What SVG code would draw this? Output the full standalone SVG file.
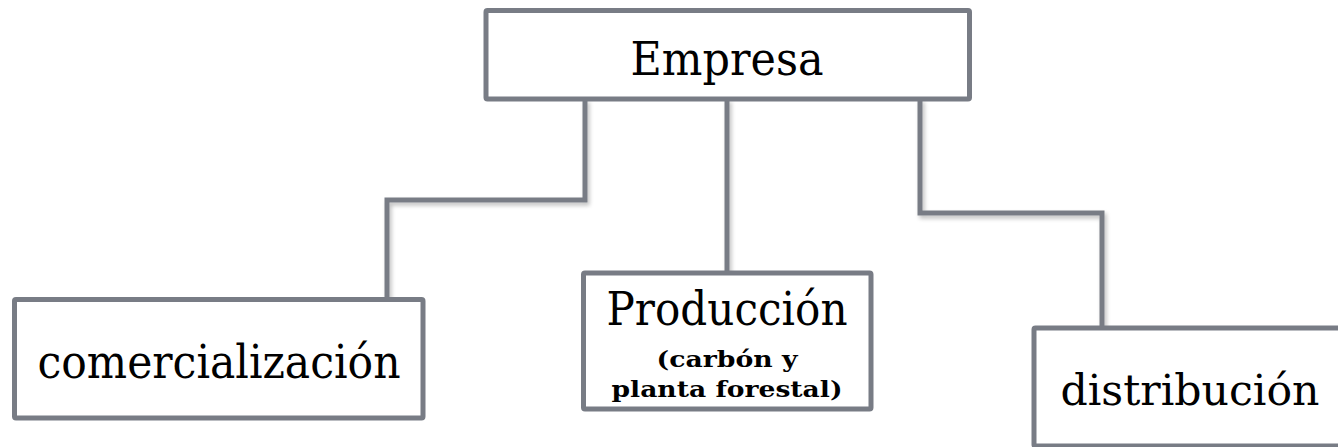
<svg xmlns="http://www.w3.org/2000/svg" width="1338" height="447" viewBox="0 0 1338 447">
<defs>
<filter id="sh" x="-10%" y="-10%" width="130%" height="130%">
<feGaussianBlur in="SourceAlpha" stdDeviation="2"/>
<feOffset dx="2" dy="3" result="b"/>
<feComponentTransfer><feFuncA type="linear" slope="0.25"/></feComponentTransfer>
<feMerge><feMergeNode/><feMergeNode in="SourceGraphic"/></feMerge>
</filter>
<style>
.box{fill:#ffffff;stroke:#787c85;stroke-width:5;}
.con{fill:none;stroke:#787c85;stroke-width:5;stroke-linejoin:miter;}
.t{font-family:"DejaVu Serif","Liberation Serif",serif;fill:#000000;text-anchor:middle;}
.b{font-family:"DejaVu Serif","Liberation Serif",serif;font-weight:bold;fill:#000000;text-anchor:middle;}
</style>
</defs>
<rect width="1338" height="447" fill="#ffffff"/>
<g id="connectors" filter="url(#sh)">
<polyline class="con" points="585,99 585,200 387,200 387,299"/>
<polyline class="con" points="727,99 727,273"/>
<polyline class="con" points="920,99 920,213 1102,213 1102,328"/>
</g>
<g id="empresa">
<rect class="box" x="486" y="10.5" width="483.5" height="88.5" rx="1.5"/>
<text class="t" x="727" y="75" font-size="46" textLength="193" lengthAdjust="spacingAndGlyphs">Empresa</text>
</g>
<g id="comercializacion">
<rect class="box" x="14.5" y="299.5" width="408.5" height="118.5" rx="1.5"/>
<text class="t" x="219" y="378" font-size="46" textLength="363" lengthAdjust="spacingAndGlyphs">comercialización</text>
</g>
<g id="produccion">
<rect class="box" x="583.5" y="273" width="287.5" height="136" rx="1.5"/>
<text class="t" x="727" y="325" font-size="46" textLength="241" lengthAdjust="spacingAndGlyphs">Producción</text>
<text class="b" x="727" y="367" font-size="22" textLength="141" lengthAdjust="spacingAndGlyphs">(carbón y</text>
<text class="b" x="727" y="397" font-size="22" textLength="231" lengthAdjust="spacingAndGlyphs">planta forestal)</text>
</g>
<g id="distribucion">
<rect class="box" x="1034" y="328" width="320" height="118" rx="1.5"/>
<text class="t" x="1190" y="405" font-size="43" textLength="259" lengthAdjust="spacingAndGlyphs">distribución</text>
</g>
</svg>
